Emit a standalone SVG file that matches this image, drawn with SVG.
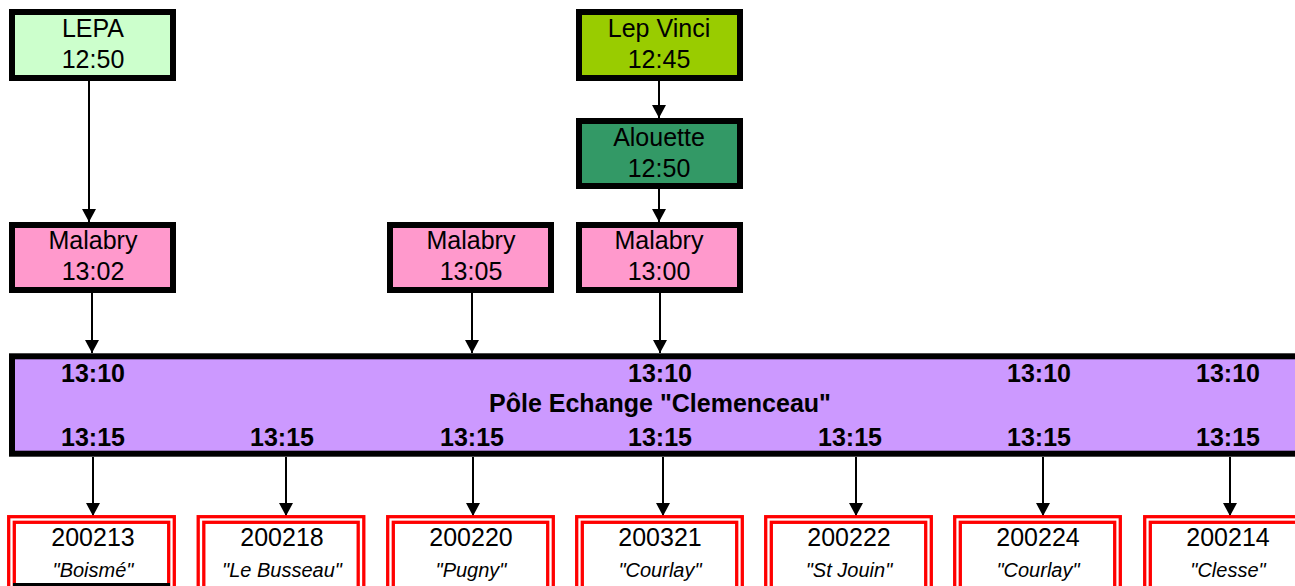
<svg xmlns="http://www.w3.org/2000/svg" width="1295" height="586" viewBox="0 0 1295 586">
<style>
.box{stroke:#000;stroke-width:6}
.t{font-family:"Liberation Sans",Arial,sans-serif;font-size:25px;fill:#000;text-anchor:middle}
.b{font-family:"Liberation Sans",Arial,sans-serif;font-size:25px;font-weight:bold;fill:#000;text-anchor:middle}
.i{font-family:"Liberation Sans",Arial,sans-serif;font-size:20px;font-style:italic;fill:#000;text-anchor:middle}
.r{fill:#fff;stroke:#f00;stroke-width:3.3}
.r2{fill:none;stroke:#f00;stroke-width:3.3}
.c{stroke:#000;stroke-width:2;fill:none;marker-end:url(#ah)}
</style>
<defs>
<marker id="ah" markerUnits="userSpaceOnUse" markerWidth="14" markerHeight="14" refX="13" refY="7" orient="auto">
<path d="M0,0 L13,7 L0,14 z" fill="#000"/>
</marker>
</defs>
<rect width="1295" height="586" fill="#fff"/>

<g id="connectors">
<line class="c" x1="89" y1="81" x2="89" y2="222"/>
<line class="c" x1="659" y1="81" x2="659" y2="118"/>
<line class="c" x1="659" y1="189" x2="659" y2="222"/>
<line class="c" x1="92" y1="293" x2="92" y2="353"/>
<line class="c" x1="472" y1="293" x2="472" y2="353"/>
<line class="c" x1="660" y1="293" x2="660" y2="353"/>
<line class="c" x1="93" y1="457" x2="93" y2="516"/>
<line class="c" x1="286" y1="457" x2="286" y2="516"/>
<line class="c" x1="473" y1="457" x2="473" y2="516"/>
<line class="c" x1="663" y1="457" x2="663" y2="516"/>
<line class="c" x1="856" y1="457" x2="856" y2="516"/>
<line class="c" x1="1043" y1="457" x2="1043" y2="516"/>
<line class="c" x1="1230" y1="457" x2="1230" y2="516"/>
</g>

<g id="lepa">
<rect class="box" x="12" y="12" width="161" height="66" fill="#CCFFCC"/>
<text class="t" x="93" y="37">LEPA</text>
<text class="t" x="93" y="68">12:50</text>
</g>
<g id="lepvinci">
<rect class="box" x="579" y="12" width="161" height="66" fill="#99CC00"/>
<text class="t" x="659" y="37">Lep Vinci</text>
<text class="t" x="659" y="68">12:45</text>
</g>
<g id="alouette">
<rect class="box" x="579" y="121" width="161" height="65" fill="#339966"/>
<text class="t" x="659" y="146">Alouette</text>
<text class="t" x="659" y="177">12:50</text>
</g>
<g id="malabry1302">
<rect class="box" x="12" y="225" width="161" height="65" fill="#FF99CC"/>
<text class="t" x="93" y="249">Malabry</text>
<text class="t" x="93" y="280">13:02</text>
</g>
<g id="malabry1305">
<rect class="box" x="390" y="225" width="161" height="65" fill="#FF99CC"/>
<text class="t" x="471" y="249">Malabry</text>
<text class="t" x="471" y="280">13:05</text>
</g>
<g id="malabry1300">
<rect class="box" x="579" y="225" width="161" height="65" fill="#FF99CC"/>
<text class="t" x="659" y="249">Malabry</text>
<text class="t" x="659" y="280">13:00</text>
</g>

<g id="pole">
<rect class="box" x="12" y="356.3" width="1300" height="97.4" fill="#CC99FF"/>
<text class="b" x="93" y="382">13:10</text>
<text class="b" x="660" y="382">13:10</text>
<text class="b" x="1039" y="382">13:10</text>
<text class="b" x="1228" y="382">13:10</text>
<text class="b" x="660" y="412">Pôle Echange "Clemenceau"</text>
<text class="b" x="93" y="446">13:15</text>
<text class="b" x="282" y="446">13:15</text>
<text class="b" x="472" y="446">13:15</text>
<text class="b" x="660" y="446">13:15</text>
<text class="b" x="850" y="446">13:15</text>
<text class="b" x="1039" y="446">13:15</text>
<text class="b" x="1228" y="446">13:15</text>
</g>

<g id="s200213">
<rect class="r" x="8.7" y="516.7" width="165.6" height="90"/>
<rect class="r2" x="14.3" y="522.3" width="154.4" height="90"/>
<rect x="13" y="583" width="157" height="3" fill="#000"/>
<text class="t" x="93" y="546">200213</text>
<text class="i" x="93" y="577">"Boismé"</text>
</g>
<g id="s200218">
<rect class="r" x="198.2" y="516.7" width="165.6" height="90"/>
<rect class="r2" x="203.8" y="522.3" width="154.4" height="90"/>
<text class="t" x="282" y="546">200218</text>
<text class="i" x="282" y="577">"Le Busseau"</text>
</g>
<g id="s200220">
<rect class="r" x="387.7" y="516.7" width="165.6" height="90"/>
<rect class="r2" x="393.3" y="522.3" width="154.4" height="90"/>
<text class="t" x="471" y="546">200220</text>
<text class="i" x="471" y="577">"Pugny"</text>
</g>
<g id="s200321">
<rect class="r" x="576.7" y="516.7" width="165.6" height="90"/>
<rect class="r2" x="582.3" y="522.3" width="154.4" height="90"/>
<text class="t" x="660" y="546">200321</text>
<text class="i" x="660" y="577">"Courlay"</text>
</g>
<g id="s200222">
<rect class="r" x="765.7" y="516.7" width="165.6" height="90"/>
<rect class="r2" x="771.3" y="522.3" width="154.4" height="90"/>
<text class="t" x="849" y="546">200222</text>
<text class="i" x="849" y="577">"St Jouin"</text>
</g>
<g id="s200224">
<rect class="r" x="954.7" y="516.7" width="165.6" height="90"/>
<rect class="r2" x="960.3" y="522.3" width="154.4" height="90"/>
<text class="t" x="1038" y="546">200224</text>
<text class="i" x="1038" y="577">"Courlay"</text>
</g>
<g id="s200214">
<rect class="r" x="1144.7" y="516.7" width="165.6" height="90"/>
<rect class="r2" x="1150.3" y="522.3" width="154.4" height="90"/>
<text class="t" x="1228" y="546">200214</text>
<text class="i" x="1228" y="577">"Clesse"</text>
</g>
</svg>
